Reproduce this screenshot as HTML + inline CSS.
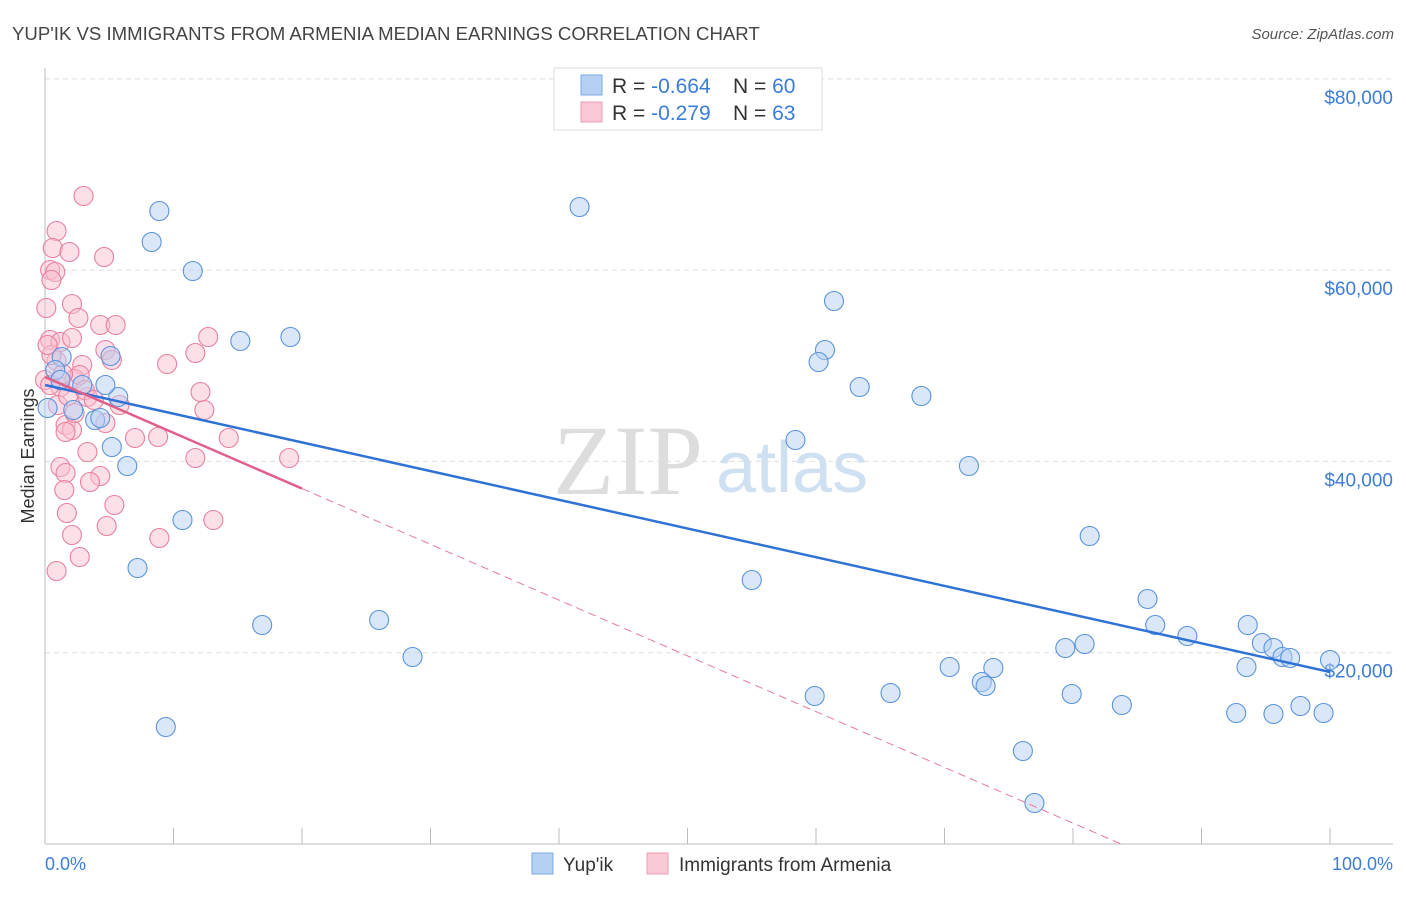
<!DOCTYPE html>
<html><head><meta charset="utf-8"><style>
body{margin:0;background:#fff;font-family:"Liberation Sans",sans-serif;}
svg text{font-family:"Liberation Sans",sans-serif;}
</style></head><body>
<svg width="1406" height="892">
<text x="12" y="40" font-size="18.6" fill="#444">YUP'IK VS IMMIGRANTS FROM ARMENIA MEDIAN EARNINGS CORRELATION CHART</text>
<text x="1394" y="39" font-size="15" fill="#555" font-style="italic" text-anchor="end">Source: ZipAtlas.com</text>
<g>
<text x="553" y="494" font-size="100" fill="#ddd" font-family="Liberation Serif" style="font-family:'Liberation Serif',serif">ZIP</text>
<text x="716" y="492" font-size="72" fill="#cfe0f3">atlas</text>
</g>
<g id="grid"></g>
<g id="axes"></g>
<g id="marks"></g>
<text transform="translate(34,456) rotate(-90)" font-size="18" fill="#333" text-anchor="middle">Median Earnings</text>
<text x="45" y="870" font-size="18" fill="#3b7dd8">0.0%</text>
<text x="1393" y="870" font-size="18" fill="#3b7dd8" text-anchor="end">100.0%</text>
<g>
<rect x="554" y="68" width="268" height="62" fill="#fff" stroke="#ddd"/>
<rect x="581" y="75" width="21" height="20" fill="#b5d0f3" stroke="#7aa7e4"/>
<rect x="581" y="102" width="21" height="20" fill="#fbc8d6" stroke="#ec9db5"/>
<text x="612" y="93" font-size="21" fill="#333">R = <tspan fill="#3b7dd8">-0.664</tspan><tspan x="733">N = </tspan><tspan fill="#3b7dd8">60</tspan></text>
<text x="612" y="120" font-size="21" fill="#333">R = <tspan fill="#3b7dd8">-0.279</tspan><tspan x="733">N = </tspan><tspan fill="#3b7dd8"> 63</tspan></text>
</g>
<g>
<rect x="532" y="853" width="21" height="21" fill="#b5d0f3" stroke="#7aa7e4"/>
<text x="563" y="871" font-size="19" fill="#333">Yup'ik</text>
<rect x="647" y="853" width="21" height="21" fill="#fbc8d6" stroke="#ec9db5"/>
<text x="679" y="871" font-size="19" fill="#333">Immigrants from Armenia</text>
</g>
</svg>
<script>
const yTicks=[20000,40000,60000,80000];
const yTickLabels=["$20,000","$40,000","$60,000","$80,000"];
const xTicks=[0,10,20,30,40,50,60,70,80,90,100];
const bluePx=[[47,408],[62,357],[55,370],[82,385],[110,356],[118,397],[95,420],[100,418],[73,410],[112,447],[127,466],[159,211],[152,242],[193,271],[240,341],[291,337],[183,520],[138,568],[166,727],[262,625],[379,620],[413,657],[580,207],[834,301],[825,350],[818,362],[860,387],[921,396],[795,440],[969,466],[752,580],[1090,536],[1147,599],[1155,625],[1188,636],[1248,625],[1262,643],[1273,648],[1283,657],[1290,658],[1330,660],[1247,667],[1085,644],[1065,648],[950,667],[993,668],[982,682],[986,686],[891,693],[815,696],[1072,694],[1122,705],[1236,713],[1274,714],[1301,706],[1323,713],[1023,751],[1035,803],[60,380],[105,385]];
const pinkPx=[[84,196],[57,231],[53,248],[70,252],[104,257],[50,270],[55,272],[52,280],[46,308],[72,304],[79,318],[100,325],[116,325],[50,340],[60,342],[72,338],[105,350],[208,337],[195,353],[167,364],[82,365],[112,360],[57,361],[45,380],[60,387],[75,379],[58,405],[68,396],[88,397],[120,405],[204,410],[200,392],[66,425],[72,430],[106,423],[65,432],[158,437],[135,438],[229,438],[289,458],[195,458],[88,452],[60,467],[66,473],[100,476],[90,482],[64,490],[115,505],[213,520],[67,513],[107,526],[72,535],[160,538],[80,557],[57,571],[80,375],[52,355],[48,345],[50,385],[63,374],[85,390],[94,400],[74,413]];
const blueX=bluePx.map(p=>+((p[0]-45)/12.85).toFixed(1));
const blueY=bluePx.map(p=>Math.round((844-p[1])*104.55));
const pinkX=pinkPx.map(p=>+((p[0]-45)/12.85).toFixed(1));
const pinkY=pinkPx.map(p=>Math.round((844-p[1])*104.55));
const blueTrend=[47990,17980];
const pinkTrend=[48820,-583];
const sx=v=>45+v*12.85, sy=v=>844-v/104.55;
const NS="http://www.w3.org/2000/svg";
function mk(parent,tag,attrs){const e=document.createElementNS(NS,tag);for(const k in attrs)e.setAttribute(k,attrs[k]);document.getElementById(parent).appendChild(e);return e;}
yTicks.forEach((t,i)=>{
 const l=mk('grid','line',{x1:45,x2:1393,y1:sy(t),y2:sy(t),stroke:'#ddd','stroke-dasharray':'5,4'});
 
 
 const tx=mk('grid','text',{x:1393,y:sy(t)+25,'font-size':19,fill:'#3b7dd8','text-anchor':'end'});
 tx.textContent=yTickLabels[i];
 
 
});
let a=mk('axes','line',{x1:45,x2:45,y1:68,y2:844,stroke:'#bbb'});


a=mk('axes','line',{x1:45,x2:1393,y1:844,y2:844,stroke:'#bbb'});


xTicks.forEach(t=>{const l=mk('axes','line',{x1:sx(t),x2:sx(t),y1:828,y2:844,stroke:'#bbb'});
 
 });
function pts(xs,ys,fill,stroke,name){xs.forEach((x,i)=>{const c=mk('marks','circle',{cx:sx(x),cy:sy(ys[i]),r:9.5,fill:fill,'fill-opacity':0.5,stroke:stroke,'stroke-width':1.1});
 
 });}
pts(pinkX,pinkY,'#f9bfd0','#e8809f','armenia-point');
pts(blueX,blueY,'#b5d0f3','#5b93dd','yupik-point');
let t=mk('marks','line',{x1:sx(0),y1:sy(blueTrend[0]),x2:sx(100),y2:sy(blueTrend[1]),stroke:'#2f72d6','stroke-width':2.5});


const pe=-pinkTrend[0]/pinkTrend[1];
t=mk('marks','line',{x1:sx(20),y1:sy(pinkTrend[0]+20*pinkTrend[1]),x2:sx(pe),y2:sy(0),stroke:'#e87a9c','stroke-width':1,'stroke-dasharray':'8,5'});


t=mk('marks','line',{x1:sx(0),y1:sy(pinkTrend[0]),x2:sx(20),y2:sy(pinkTrend[0]+20*pinkTrend[1]),stroke:'#e0608a','stroke-width':2.5});


</script>
</body></html>
